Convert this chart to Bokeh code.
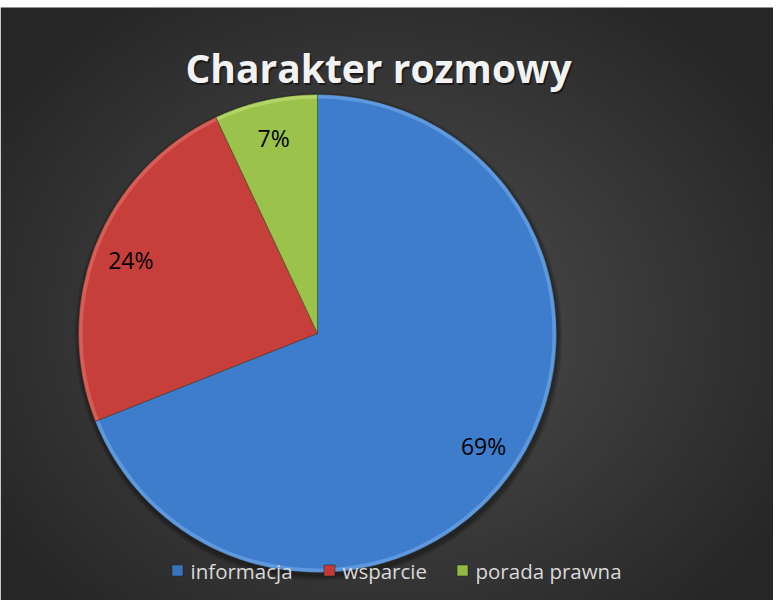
import numpy as np
from bokeh.plotting import figure
from bokeh.models import Range1d
from bokeh.core.properties import value
from bokeh.embed import file_html
from bokeh.resources import INLINE

# ---- data ----
title_text = "Charakter rozmowy"
categories = ["informacja", "wsparcie", "porada prawna"]
shares = [69, 24, 7]
colors = ["#3e7dcc", "#c63f3b", "#9bc24b"]
rim_colors = ["#5e98de", "#d95c56", "#b3d568"]
legend_colors = ["#3a73bd", "#c23b37", "#93b944"]

W, H = 773, 600
p = figure(width=W, height=H, x_range=Range1d(8, 781), y_range=Range1d(0, 600),
           output_backend="svg", toolbar_location=None, min_border=0,
           background_fill_color="white", border_fill_color="white")
p.axis.visible = False
p.grid.visible = False
p.outline_line_color = None

# ---- radial gradient background (chart area: screen y 15..608) ----
gh, gw = 297, 387
ys, xs = np.mgrid[0:gh, 0:gw]
sx = 8 + (xs + 0.5) * 773 / gw
sy = 608 - (ys + 0.5) * 593 / gh
d = np.sqrt(((sx - 394) / 470) ** 2 + ((sy - 330) / 400) ** 2)
d = np.clip(d, 0, 1)
c = (80 - 42 * d).astype(np.uint8)
img = np.empty((gh, gw), dtype=np.uint32)
view = img.view(dtype=np.uint8).reshape((gh, gw, 4))
view[..., 0] = c
view[..., 1] = c
view[..., 2] = c
view[..., 3] = 255
p.image_rgba(image=[img], x=8, y=0, dw=773, dh=593)

# ---- pie ----
cx, cy, R = 325, 608 - 341, 239
vals = np.array(shares, dtype=float)
frac = vals / vals.sum()
cum = np.concatenate([[0], np.cumsum(frac)])
starts = np.pi / 2 - 2 * np.pi * cum[:-1]
ends = np.pi / 2 - 2 * np.pi * cum[1:]

# soft shadow
for k in range(5):
    p.circle(x=[cx + 1], y=[cy - 3], radius=R + 1 + k, fill_color="black",
             fill_alpha=0.08, line_color=None)

p.wedge(x=cx, y=cy, radius=R, start_angle=starts, end_angle=ends, direction="clock",
        fill_color=rim_colors, line_color=None)
p.wedge(x=cx, y=cy, radius=R - 4, start_angle=starts, end_angle=ends, direction="clock",
        fill_color=colors, line_color=None)
p.wedge(x=cx, y=cy, radius=R, start_angle=starts, end_angle=ends, direction="clock",
        fill_color=None, line_color="#2a3a20", line_alpha=0.35, line_width=1)

# data labels
mids = (starts + ends) / 2
lr = 0.84 * R
lx = cx + lr * np.cos(mids)
ly = cy + lr * np.sin(mids)
p.text(x=lx, y=ly, text=[f"{v}%" for v in shares], text_align="center",
       text_baseline="middle", text_font=value("Open Sans"),
       text_font_size="23px", text_color="black")

# ---- title ----
p.text(x=[387.5], y=[608 - 76.5], text=[title_text], text_align="center",
       text_baseline="alphabetic", text_font=value("Open Sans"), text_font_style="bold",
       text_font_size="39px", text_color="black", text_alpha=0.5)
p.text(x=[386], y=[608 - 75], text=[title_text], text_align="center",
       text_baseline="alphabetic", text_font=value("Open Sans"), text_font_style="bold",
       text_font_size="39px", text_color="#f2f2f2")

# ---- legend ----
mx = [185, 337, 470]
tx = [198, 350, 483]
ly_leg = 608 - 578
p.rect(x=mx, y=[ly_leg] * 3, width=11, height=11, fill_color=legend_colors,
       line_color="#1f1f1f", line_width=0.5)
p.text(x=tx, y=[ly_leg] * 3, text=categories, text_align="left", text_baseline="middle",
       text_font=value("Open Sans"), text_font_size="20.5px", text_color="#d9d9d9")

open("out.html", "w").write(file_html(p, INLINE))
